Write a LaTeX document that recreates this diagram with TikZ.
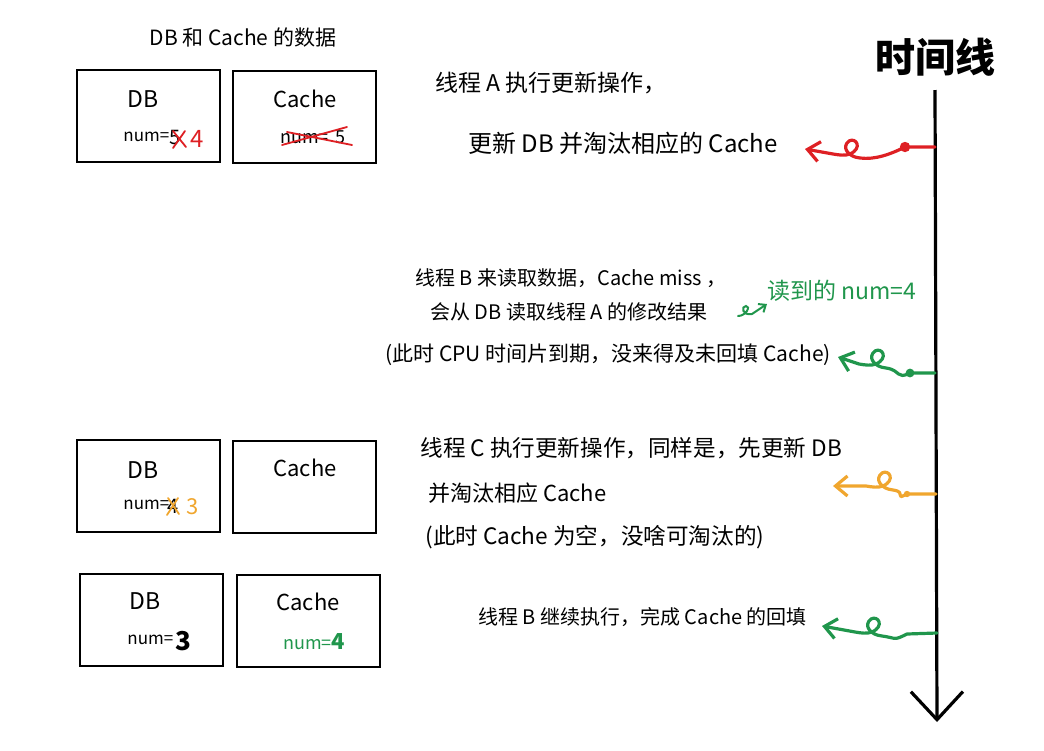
\documentclass[tikz,border=0pt]{standalone}
\usepackage{fontspec}
\newfontfamily\cjk{Noto Sans CJK SC}
\usepackage{tikz}
\usetikzlibrary{arrows.meta}
\definecolor{penred}{RGB}{222,32,36}
\definecolor{pengreen}{RGB}{32,150,76}
\definecolor{penorange}{RGB}{240,166,46}
\newcommand{\fsz}[1]{\fontsize{#1}{#1}\selectfont}
\tikzstyle{box} = [draw, line width=1pt, minimum width=71.5pt, minimum height=46pt, inner sep=0pt]
\tikzstyle{txt} = [anchor=west, inner sep=0pt, font=\cjk\fsz{11}]
\tikzstyle{lbl} = [inner sep=0pt, font=\cjk\fsz{11}]
\tikzstyle{wig} = [line width=1.6pt, line cap=round, line join=round, -{Straight Barb[length=6pt,width=10pt]}]
\tikzstyle{strike} = [line width=0.9pt, line cap=round]
% timeline point, dot, loop centre, arrow end
\newcommand{\squiggle}[5]{%
  \begin{scope}[shift={(#4)}]
    \draw[wig,#1] (#2) -- (#3) .. controls +(-14,7) and (24,10) .. (9,8)
      .. controls (-3,7) and (-10,-3) .. (-2,-9)
      .. controls (5,-13) and (12,-2) .. (-1,4)
      .. controls (-6,6) and (-12,5) .. (-18,4)
      -- (#5);
  \end{scope}}

\begin{document}
\begin{tikzpicture}[x=0.5pt,y=-0.5pt]
    \useasboundingbox (0,0) rectangle (1044,750);
    \node[lbl,font=\cjk\fsz{10.5}] (title) at (243,38) {DB 和 Cache 的数据};

    % first state
    \node[box] (db1) at (148,116) {};
    \node[box] (cache1) at (304.5,116.5) {};
    \node[lbl,font=\cjk\fsz{11.5}] (db1t) at (143,99) {DB};
    \node[lbl,anchor=west,font=\cjk\fsz{8.5}] (db1n) at (123,137) {num=};
    \node[lbl,anchor=west,font=\cjk\fsz{10}] (db1v) at (169,137) {5};
    \draw[strike,penred] (173,131) -- (186,147) (185,131) -- (173,148);
    \node[lbl,anchor=west,penred,font=\cjk\fsz{12}] (db1w) at (190,139) {4};
    \node[lbl] (cache1t) at (305,99) {Cache};
    \node[lbl,anchor=west,font=\cjk\fsz{9}] (cache1n) at (280,137) {num=\, 5};
    \draw[strike,penred] (282,145) -- (347,127) (287,132) -- (352,145);

    % second state
    \node[box] (db2) at (148.5,486) {};
    \node[box] (cache2) at (304.5,486.5) {};
    \node[lbl,font=\cjk\fsz{11.5}] (db2t) at (143,470) {DB};
    \node[lbl,anchor=west,font=\cjk\fsz{8.5}] (db2n) at (123,505) {num=};
    \node[lbl,anchor=west,font=\cjk\fsz{10}] (db2v) at (167,506) {4};
    \draw[strike,penorange] (168,498) -- (179,514) (178,498) -- (167,515);
    \node[lbl,anchor=west,penorange,font=\cjk\fsz{11}] (db2w) at (186,507) {3};
    \node[lbl] (cache2t) at (305,468) {Cache};

    % third state
    \node[box] (db3) at (151.5,619.5) {};
    \node[box] (cache3) at (308.5,620.5) {};
    \node[lbl,font=\cjk\fsz{11.5}] (db3t) at (145,601) {DB};
    \node[lbl,anchor=west,font=\cjk\fsz{8.5}] (db3n) at (127,640) {num=};
    \node[lbl,anchor=west,font=\cjk\bfseries\fsz{13}] (db3v) at (175,641) {3};
    \node[lbl] (cache3t) at (308,602) {Cache};
    \node[lbl,anchor=west,pengreen,font=\cjk\fsz{9}] (cache3n) at (283,642) {num=\textbf{\fsz{11}4}};

    % time line
    \node[lbl,font=\cjk\bfseries\fsz{20}] (tl) at (935,57) {时间线};
    \coordinate (ttop) at (935,90);
    \coordinate (tbot) at (937,722);
    \draw[line width=1.6pt,-{Straight Barb[length=14pt,width=26pt]}] (ttop) -- (tbot);

    % thread A
    \node[txt,font=\cjk\fsz{11.5}] (a1) at (435,83) {线程 A 执行更新操作，};
    \node[txt,font=\cjk\fsz{12}] (a2) at (468,143) {更新 DB 并淘汰相应的 Cache};
    \coordinate (ta) at (935,147);
    \coordinate (da) at (905,147);
    \coordinate (la) at (851,150);
    \coordinate (ea) at (805,149);
    \squiggle{penred}{ta}{da}{la}{ea}
    \fill[penred] (da) circle (2.6pt);

    % thread B reads
    \node[txt,font=\cjk\fsz{10}] (b1) at (415,278) {线程 B 来读取数据，Cache miss ，};
    \node[txt,font=\cjk\fsz{10}] (b2) at (430,312) {会从 DB 读取线程 A 的修改结果};
    \node[txt,font=\cjk\fsz{10.5}] (b3) at (385,355) {(此时 CPU 时间片到期，没来得及未回填 Cache)};
    \node[txt,pengreen,font=\cjk\fsz{11.5}] (b4) at (767,291) {读到的 num=4};
    \coordinate (sa) at (738,316);
    \coordinate (sb) at (767,304);
    \draw[pengreen,line width=1pt,line cap=round,-{Straight Barb[length=3pt,width=5pt]}]
        (sa) .. controls (746,316) and (751,306) .. (746,306)
        .. controls (741,306) and (742,316) .. (752,314) -- (sb);
    \coordinate (tb) at (935,373);
    \coordinate (db) at (910,373);
    \coordinate (lb) at (877,360);
    \coordinate (eb) at (838,357);
    \squiggle{pengreen}{tb}{db}{lb}{eb}
    \fill[pengreen] (db) circle (2.2pt);

    % thread C
    \node[txt,font=\cjk\fsz{11.3}] (c1) at (420,448) {线程 C 执行更新操作，同样是，先更新 DB};
    \node[txt] (c2) at (428,493) {并淘汰相应 Cache};
    \node[txt,font=\cjk\fsz{11.3}] (c3) at (425,537) {(此时 Cache 为空，没啥可淘汰的)};
    \coordinate (tc) at (936,494);
    \coordinate (dc) at (907,494);
    \coordinate (lc) at (884,482);
    \coordinate (ec) at (833,486);
    \squiggle{penorange}{tc}{dc}{lc}{ec}
    \fill[penorange] (dc) circle (1.6pt);

    % thread B goes on
    \node[txt,font=\cjk\fsz{10}] (d1) at (478,617) {线程 B 继续执行，完成 Cache 的回填};
    \coordinate (td) at (937,633);
    \coordinate (dd) at (907,634);
    \coordinate (ld) at (873,628);
    \coordinate (ed) at (822,626);
    \squiggle{pengreen}{td}{dd}{ld}{ed}
\end{tikzpicture}
\end{document}
